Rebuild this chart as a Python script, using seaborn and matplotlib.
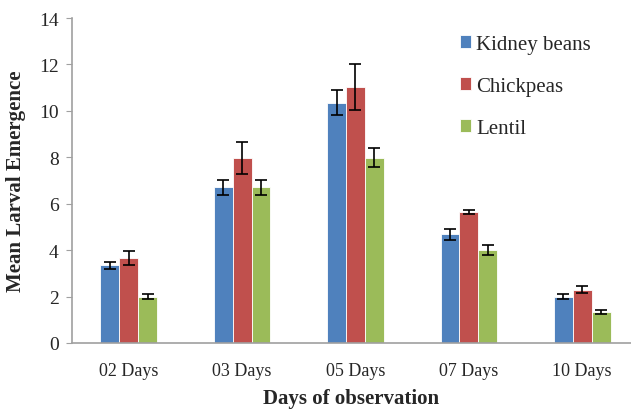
import matplotlib
matplotlib.use("Agg")
import matplotlib.pyplot as plt
import seaborn as sns
import pandas as pd
import numpy as np

days = ["02 Days", "03 Days", "05 Days", "07 Days", "10 Days"]
series = ["Kidney beans", "Chickpeas", "Lentil"]
kidney = [3.35, 6.7, 10.35, 4.68, 2.0]
chick = [3.65, 7.97, 11.02, 5.65, 2.3]
lentil = [2.0, 6.7, 7.98, 4.0, 1.33]
kidney_err = [0.16, 0.34, 0.53, 0.25, 0.1]
chick_err = [0.3, 0.7, 1.0, 0.09, 0.14]
lentil_err = [0.1, 0.34, 0.4, 0.21, 0.1]
colors = ["#4F81BD", "#C0504D", "#9BBB59"]

rows = []
for s, vals, errs in zip(series, [kidney, chick, lentil], [kidney_err, chick_err, lentil_err]):
    for d, v, e in zip(days, vals, errs):
        rows.append({"Day": d, "Series": s, "Value": v, "Err": e})
df = pd.DataFrame(rows)

sns.set_style("white")
plt.rcParams['font.family'] = ['Liberation Serif', 'DejaVu Serif']

fig = plt.figure(figsize=(6.31, 4.10), dpi=100)
ax = fig.add_axes([72/631, 66/410, (631-72)/631, 325/410])
sns.barplot(data=df, x="Day", y="Value", hue="Series", order=days, hue_order=series,
            palette=colors, width=0.5, errorbar=None, ax=ax,
            edgecolor="white", linewidth=0.6, saturation=1)

# error bars from bar patches
for container, s in zip(ax.containers, series):
    sub = df[df.Series == s].set_index("Day").loc[days]
    for bar, e in zip(container, sub["Err"].values):
        x = bar.get_x() + bar.get_width() / 2
        h = bar.get_height()
        ax.errorbar(x, h, yerr=e, color="black", capsize=4, elinewidth=1.2, capthick=1.2, fmt="none")

ax.set_ylim(0, 14)
ax.set_yticks(np.arange(0, 15, 2))
ax.set_xlim(-0.5, 4.43)
for sp in ["top", "right"]:
    ax.spines[sp].set_visible(False)
for sp in ["left", "bottom"]:
    ax.spines[sp].set_color("#A0A0A0")
    ax.spines[sp].set_linewidth(1.2)
ax.tick_params(axis="y", which="both", left=True, length=4.5, color="#A0A0A0", labelsize=14, pad=5)
ax.tick_params(axis="x", bottom=False, labelsize=13, pad=10)
ax.set_xlabel("Days of observation", fontsize=15, fontweight="bold", labelpad=6.5)
ax.set_ylabel("Mean Larval Emergence", fontsize=15, fontweight="bold")
ax.yaxis.set_label_coords(-0.083, 0.5)

leg = ax.legend(loc="upper left", bbox_to_anchor=(0.66, 1.005), frameon=False, fontsize=15,
                handlelength=0.55, handleheight=0.55, handletextpad=0.25, labelspacing=1.1)

fig.savefig("out.png", dpi=100)
